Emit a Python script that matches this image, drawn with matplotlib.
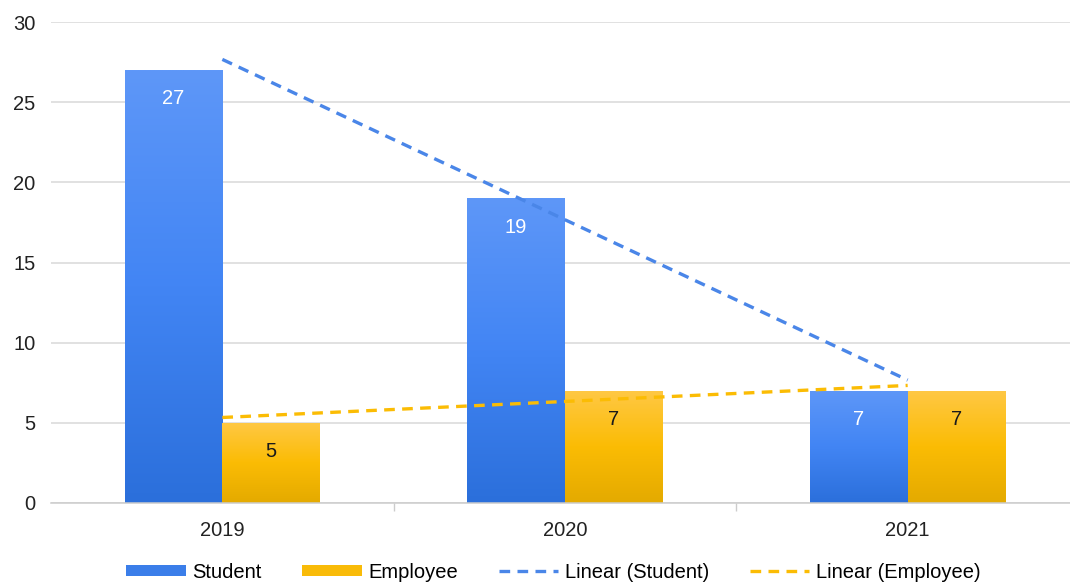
import numpy as np
import matplotlib.pyplot as plt
from matplotlib.colors import LinearSegmentedColormap
from matplotlib.patches import Patch
from matplotlib.lines import Line2D

# ----------------------------
# Data
# ----------------------------
years = ["2019", "2020", "2021"]
student = [27, 19, 7]
employee = [5, 7, 7]

BAR_W = 0.285
STUDENT_GRAD = ["#2b6fdb", "#4285f4", "#5e97f8"]   # bottom -> top
EMPLOYEE_GRAD = ["#e4aa00", "#fbbc04", "#ffc845"]
STUDENT_LINE = "#4a86e8"
EMPLOYEE_LINE = "#fbbc04"
FS = 14.5

plt.rcParams["font.family"] = ["Liberation Sans", "DejaVu Sans"]

fig = plt.figure(figsize=(10.70, 5.83), dpi=100)
ax = fig.add_axes([51 / 1070, 1 - 503 / 583, 1 - 51 / 1070, (503 - 22) / 583])

x = np.arange(len(years))


def gradient_bars(xs, heights, colors, text_color):
    cmap = LinearSegmentedColormap.from_list("g", colors)
    grad = np.linspace(0, 1, 256).reshape(-1, 1)
    bars = ax.bar(xs, heights, width=BAR_W, color="none", edgecolor="none", zorder=2)
    for b, h in zip(bars, heights):
        x0 = b.get_x()
        im = ax.imshow(grad, cmap=cmap, aspect="auto", origin="lower",
                       extent=[x0, x0 + b.get_width(), 0, h], zorder=2)
        im.set_clip_path(b)
        ax.text(x0 + b.get_width() / 2, h - 1.8, str(h), ha="center", va="center",
                color=text_color, fontsize=FS, zorder=4)
    return bars


gradient_bars(x - BAR_W / 2, student, STUDENT_GRAD, "white")
gradient_bars(x + BAR_W / 2, employee, EMPLOYEE_GRAD, "#1a1a1a")

# Linear trend lines (least squares fit over the three years)
for vals, col in [(student, STUDENT_LINE), (employee, EMPLOYEE_LINE)]:
    k, b0 = np.polyfit(x, vals, 1)
    ax.plot(x, k * x + b0, linestyle=(0, (3.2, 2.2)), color=col, linewidth=2.4, zorder=3)

ax.set_xlim(-0.5, 2.5 - 9 / 342.5)
ax.set_ylim(0, 30)
ax.set_yticks(range(0, 31, 5))
ax.yaxis.grid(True, color="#d9d9d9", linewidth=1.1, zorder=0)
ax.set_axisbelow(True)
ax.tick_params(axis="y", length=0, labelsize=FS, colors="#222222", pad=11)

# category labels at centres, tick marks at category boundaries
ax.set_xticks(x)
ax.set_xticklabels(years)
ax.tick_params(axis="x", which="major", length=0, labelsize=FS, colors="#222222", pad=13)
ax.set_xticks([0.5, 1.5], minor=True)
ax.tick_params(axis="x", which="minor", length=6, color="#cccccc", width=1)

for s in ["top", "right", "left"]:
    ax.spines[s].set_visible(False)
ax.spines["bottom"].set_color("#cccccc")
ax.spines["bottom"].set_linewidth(1.1)

handles = [
    Patch(facecolor="#3b7ee9", label="Student"),
    Patch(facecolor="#f9bb08", label="Employee"),
    Line2D([0], [0], color=STUDENT_LINE, linestyle=(0, (3.2, 2.2)), linewidth=2.4, label="Linear (Student)"),
    Line2D([0], [0], color=EMPLOYEE_LINE, linestyle=(0, (3.2, 2.2)), linewidth=2.4, label="Linear (Employee)"),
]
fig.legend(handles=handles, loc="center", bbox_to_anchor=(553.5 / 1070, 1 - 572 / 583), ncol=4,
           frameon=False, fontsize=FS, handlelength=2.95, handleheight=0.5,
           handletextpad=0.35, columnspacing=2.0)

fig.savefig("out.png", dpi=100)
